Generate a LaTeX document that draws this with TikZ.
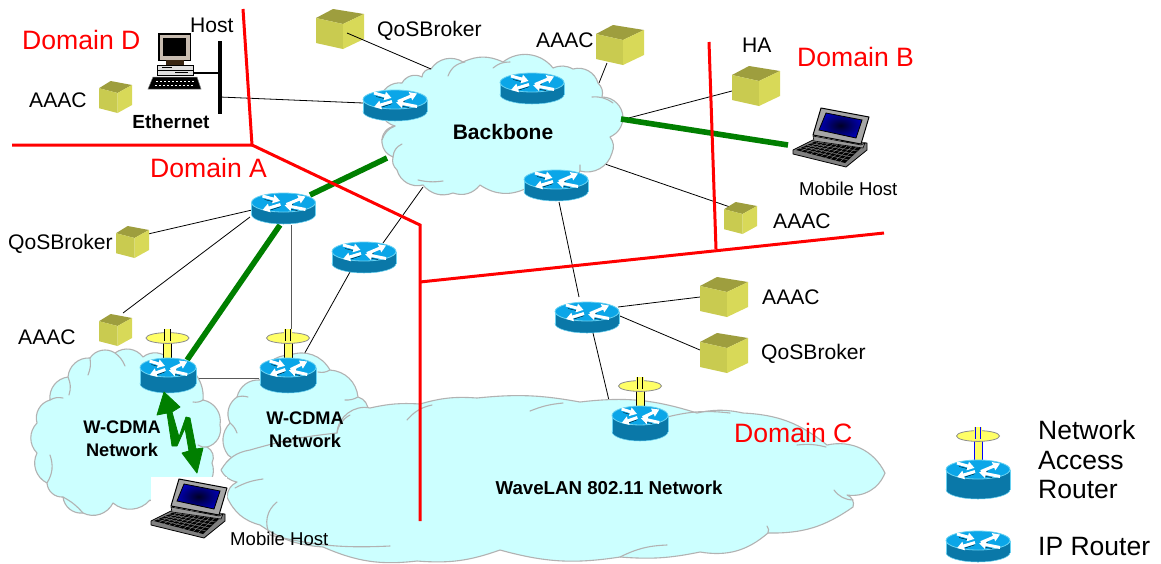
\documentclass[tikz,border=0pt]{standalone}
\usepackage{fontspec}
\setmainfont{Liberation Sans}
\usetikzlibrary{arrows.meta,calc}
\definecolor{cloudfill}{HTML}{CCFFFF}
\definecolor{cloudedge}{HTML}{B2B2B2}
\definecolor{rtop}{HTML}{0BA6E8}
\definecolor{rside}{HTML}{0A78A8}
\definecolor{redge}{HTML}{6AD2F2}
\definecolor{ctop}{HTML}{9E9E3E}
\definecolor{cleft}{HTML}{C9CB50}
\definecolor{cright}{HTML}{D8D958}
\definecolor{gline}{HTML}{007F00}
\definecolor{mast}{HTML}{FFFF66}
\definecolor{beige}{HTML}{C8BCB0}
\tikzset{
  cloudshape/.style={fill=cloudfill,draw=cloudedge,line width=1.1pt,line join=round},
  wrinkle/.style={draw=cloudedge,line width=1.1pt,line cap=round},
  redline/.style={draw=red,line width=3pt,line join=miter},
  greenline/.style={draw=gline,line width=5.6pt},
  thinline/.style={draw=black,line width=.8pt},
  grayline/.style={draw=black!65,line width=1pt},
  lbl/.style={inner sep=0pt,font=\fontsize{21.1}{25}\selectfont,text=black},
  dom/.style={inner sep=0pt,font=\fontsize{26.6}{30}\selectfont,text=red},
  small/.style={inner sep=0pt,font=\fontsize{18.6}{22}\selectfont,text=black},
  bld/.style={inner sep=0pt,align=center,font=\fontsize{18.2}{23}\selectfont\bfseries,text=black},
  leg/.style={inner sep=0pt,align=left,font=\fontsize{26.5}{29.5}\selectfont,text=black},
  bump/.style={every to/.style={bend left=#1}},
}
\newcommand\mycube[5]{%
  \begin{scope}[shift={(#2,#3)},xscale=#4,yscale=#5]
    \coordinate (#1) at (24,20);
    \fill[ctop] (17,0)--(48,5)--(27,15)--(0,9)--cycle;
    \fill[cleft] (0,9)--(27,15)--(27,40)--(0,34)--cycle;
    \fill[cright] (27,15)--(48,5)--(48,30)--(27,40)--cycle;
  \end{scope}}
\newcommand\mybig[3]{\mycube{#1}{#2}{#3}{1}{1}}
\newcommand\mysmall[3]{\mycube{#1}{#2}{#3}{.6875}{.8}}
\newcommand\myrouter[5]{%
  \coordinate (#1) at (#2,#3);
  \begin{scope}[shift={(#2,#3)},xscale=#4]
    \fill[rside,draw=redge,line width=.5pt] (0,#5) ellipse [x radius=32,y radius=9.5];
    \fill[rside] (-32,0) rectangle (32,#5);
    \draw[redge,line width=.5pt] (-32,0)--(-32,#5) (32,0)--(32,#5);
    \fill[rtop,draw=redge,line width=.8pt] (0,0) ellipse [x radius=32,y radius=9.5];
    \draw[black,line width=.35pt] (-19,-3)--(-9,-.5) (3,3.8)--(10,1.5) (-13,7.5)--(-3,4.2) (5,6.5)--(14,8);
    \foreach \a/\b/\c/\d in {-21/-6.5/-3.5/-1.6, 3/2/22/-6, -3/2/-21/7.5, 22/7/1/2.8}{
      \draw[white,line width=3pt,-{Triangle[width=8.5pt,length=7pt]}] (\a,\b)--(\c,\d);}
  \end{scope}}
\newcommand\myantenna[5]{%
  \begin{scope}[shift={(#1,0)}]
    \fill[mast,draw=#5,line width=.5pt] (-3.8,#3)rectangle(3.8,#4);
    \fill[mast,draw=black!45,line width=.8pt] (0,#3) ellipse [x radius=21.5,y radius=5.4];
    \fill[mast] (-3.8,#2) rectangle (3.8,#3);
    \draw[#5,line width=.8pt] (-2.8,#2)--(-2.8,#3+3) (2.8,#2)--(2.8,#3+3);
  \end{scope}}
\newcommand\mylaptop[3]{%
  \begin{scope}[shift={(#2,#3)}]
    \coordinate (#1) at (37,30);
    \fill[black!50,draw=black,line width=.8pt,line join=round] (20,33)--(74,36)--(74,43)--(53,60)--(0,47)--(0,43)--cycle;
    \fill[black!35,draw=black,line width=1pt,line join=round] (28,1)--(76,10)--(68,37)--(20,28)--cycle;
    \begin{scope}
      \clip (33,6)--(69,13)--(63,31)--(26,23)--cycle;
      \shade[inner color=black!85!blue,outer color=blue!75!black] (24,4) rectangle (71,33);
    \end{scope}
    \draw[black,line width=.8pt] (33,6)--(69,13)--(63,31)--(26,23)--cycle;
    \fill[black!40,draw=black,line width=.6pt] (20,29)--(68,38)--(72,36)--(70,41)--(21,34)--cycle;
    \fill[black] (3,43)--(21,35)--(68,41)--(52,56)--cycle;
    \foreach \t in {.2,.4,.6,.8}{
      \draw[black!50,line width=.5pt] ($(3,43)!\t!(21,35)$)--($(52,56)!\t!(68,41)$);}
    \foreach \t in {.1,.2,...,.95}{
      \draw[black!50,line width=.5pt] ($(3,43)!\t!(52,56)$)--($(21,35)!\t!(68,41)$);}
  \end{scope}}
\begin{document}
\begin{tikzpicture}[x=1pt,y=-1pt]
\useasboundingbox (0,0) rectangle (1161,563);
\fill[white] (0,0) rectangle (1161,563);

\coordinate (bbQ) at (431,69);
\coordinate (bbA) at (599,83);
\coordinate (bbH) at (621,120);
\coordinate (bbM) at (621,119);
\coordinate (bbD) at (602,163);
\coordinate (bbW) at (423,187);
\coordinate (bbG) at (387,158);
\coordinate (ethJ) at (220,97);
\coordinate (ethK) at (220,73);
\coordinate (ethT) at (220,41);
\coordinate (ethB) at (220,114);
\coordinate (pcR) at (193,73);
\coordinate (hostM) at (788,145);
\coordinate (r5a) at (383,243);
\coordinate (r5b) at (350,272);
\coordinate (n2b) at (302,358);
\coordinate (r4a) at (291,225);
\coordinate (n2a) at (291,335);
\coordinate (r3a) at (559,202);
\coordinate (r6a) at (579,297);
\coordinate (r6b) at (593,333);
\coordinate (n3a) at (612,413);
\coordinate (r6c) at (618,307);
\coordinate (r6d) at (620,316);
\coordinate (r4g) at (310,195);
\coordinate (r4h) at (280,225);
\coordinate (n1g) at (187,360);
\coordinate (r4q) at (252,210);
\coordinate (r4s) at (250,217);
\coordinate (qL) at (148,234);
\coordinate (aL) at (123,313);
\coordinate (cubeA) at (700,297);
\coordinate (cubeB) at (700,350);
\coordinate (haL) at (732,91);
\coordinate (aaS) at (730,207);
\coordinate (aaT) at (607,63);
\coordinate (qT) at (347,33);
\coordinate (n1r) at (196,378);
\coordinate (n2l) at (259,378);

\draw[thinline] (bbA)--(aaT);
\draw[thinline] (bbH)--(haL);
\draw[thinline] (bbD)--(aaS);
\draw[thinline] (bbW)--(r5a);
\draw[thinline] (r5b)--(n2b);
\draw[thinline] (r3a)--(r6a);
\draw[thinline] (r6b)--(n3a);
\draw[thinline] (r6c)--(cubeA);
\draw[thinline] (r6d)--(cubeB);
\draw[thinline] (r4q)--(qL);
\draw[thinline] (r4s)--(aL);
\draw[grayline] (r4a)--(n2a);
\draw[grayline] (n1r)--(n2l);
\draw[greenline] (bbG)--(r4g);
\draw[greenline] (r4h)--(n1g);

\path[cloudshape,bump=45] (37,423) to (50,400) to (68,377) to (90,358) to (115,353) to (143,357) to (170,360) to (203,400) to (220,425) to (207,447) to (212,463) to (200,490) to (150,500) to (113,503) to (83,513) to (63,497) to (47,483) to (37,453) to (37,423) -- cycle;
\draw[wrinkle] (50,400) to[bend left=20] (63,398) (68,377) to[bend left=20] (69,395) (90,358) to[bend left=15] (88,375) (115,353) to[bend left=15] (125,366) (203,400) to[bend left=20] (193,402) (207,447) to[bend left=20] (198,445) (47,483) to[bend right=25] (50,455) (83,513) to[bend right=10] (63,497);
\path[cloudshape,bump=40] (230,423) to (237,397) to (260,380) to (290,355) to (330,370) to (358,397) to (368,412) to (360,450) to (228,455) to (230,423) -- cycle;
\draw[wrinkle] (237,397) to[bend left=15] (248,397) (330,370) to[bend left=20] (318,372) (358,397) to[bend left=15] (345,400) (230,423) to[bend left=15] (237,433);
\path[cloudshape] (221,470)
  to[bend left=25] (250,450) to[bend left=5] (337,433) to[bend left=50] (370,408) to[bend left=8] (420,404)
  to[bend left=10] (477,398) to[bend left=8] (580,402) to[bend left=12] (697,413) to[bend left=12] (743,413)
  to[bend left=18] (827,445) to[bend left=38] (885,473) to[bend left=38] (847,495) to[bend left=45] (853,507) to[bend left=18] (768,533) to[bend left=25] (700,552)
  to[bend left=8] (620,557) to[bend left=12] (500,550) to[bend left=12] (417,561) to[bend left=15] (323,547)
  to[bend left=15] (260,525) to[bend left=25] (227,497) to[bend left=30] (237,482) to[bend left=25] (221,470) -- cycle;
\draw[wrinkle] (337,433) to[bend left=25] (350,415) (407,420) to[bend left=18] (432,405) (530,411) to[bend left=8] (563,403)
  (667,417) to[bend left=10] (730,413) (797,445) to[bend left=10] (826,447)
  (834,490) to[bend right=25] (853,500) (767,526) to[bend left=30] (768,533) (667,545) to[bend right=12] (620,557)
  (263,479) to[bend right=10] (235,488) (277,502) to[bend right=40] (270,535) to[bend right=8] (390,546);
\path[cloudshape,bump=45] (431,69) to (463,62) to[bend left=25] (503,62) to (553,68) to[bend left=25] (573,69) to (598,83) to[bend left=30] (602,97) to (623,118) to[bend left=30] (610,137) to[bend left=30] (612,153) to (580,171) to (527,188) to[bend left=30] (480,185) to[bend left=35] (453,193) to[bend left=35] (423,185) to (397,170) to[bend left=30] (393,157) to[bend left=30] (382,143) to (395,126) to (380,100) to (402,83) to (422,77) to (431,69) -- cycle;
\draw[wrinkle] (448,76) to[bend left=30] (465,62) (493,68) to[bend left=20] (510,62) (592,97) to[bend left=20] (613,103)
  (580,165) -- (580,171) (402,144) to[bend right=30] (393,157) (443,181) to[bend left=10] (418,180) (395,126) to[bend right=25] (382,140);

\mybig{qosT}{316}{9}
\draw[thinline] (qT)--(bbQ);

\draw[greenline] (bbM)--(hostM);
\draw[thinline] (ethJ)--(363,103);
\draw[draw=black,line width=3.5pt] (ethT)--(ethB);
\draw[draw=black,line width=2.6pt] (pcR)--(ethK);

\fill[black] (158,33) rectangle (191,61);
\fill[beige] (159.5,34.5) rectangle (189.5,59.5);
\fill[black] (163,38) rectangle (186,56);
\fill[black!70!brown] (166,60) rectangle (184,65);
\fill[black!12,draw=black,line width=.6pt] (157,65) rectangle (193,75);
\draw[black,line width=.8pt] (157,70)--(193,70) (162,67.5)--(172,67.5) (175,72.5)--(188,72.5);
\fill[black,draw=black!50,line width=.5pt] (153,77)--(197,77)--(201,89)--(148,89)--cycle;
\foreach \q in {156,160,...,192}{\draw[white,line width=.5pt] (\q,81)--(\q+2,81) (\q-1,85)--(\q+1,85);}
\coordinate (pc) at (175,60);

\coordinate (ra) at (243,9);
\coordinate (rb) at (252,145);
\coordinate (rc) at (12,145);
\coordinate (rd) at (420,225);
\coordinate (re) at (420,521);
\coordinate (rf) at (420,282);
\coordinate (rg) at (884,233);
\coordinate (rh) at (709,42);
\coordinate (ri) at (716,249);
\draw[redline] (ra)--(rb)--(rc);
\draw[redline] (rb)--(rd)--(re);
\draw[redline] (rf)--(rg);
\draw[redline] (rh)--(ri);

\fill[white] (151,477) rectangle (227,537);
\mylaptop{lapL}{151}{478}
\mylaptop{lapR}{793}{107}

\mybig{aaacT}{596}{25}
\mybig{ha}{732}{66}
\mybig{aaacC}{700}{277}
\mybig{qosC}{700}{333}
\mysmall{aaacB}{724}{202}
\mysmall{aaacD}{99}{81}
\mysmall{qosA}{116}{226}
\mysmall{aaacA}{99}{314}

\myrouter{r1}{395}{99.5}{1}{12}
\myrouter{r2}{532}{82.5}{1}{12}
\myrouter{r3}{556}{179.5}{1}{12}
\myrouter{r4}{283.5}{202.5}{1}{12}
\myrouter{r5}{364}{251.5}{1}{12}
\myrouter{r6}{587}{311.5}{1}{12}
\myantenna{167.5}{329}{338}{365}{black}
\myantenna{288}{329}{338}{365}{black}
\myantenna{640}{377}{386}{414}{black}
\myantenna{978}{427}{436}{468}{blue}
\myrouter{n1}{168}{367.5}{.875}{16}
\myrouter{n2}{288}{367.5}{.875}{16}
\myrouter{n3}{640}{415.5}{.875}{16}
\myrouter{n4}{978}{469.5}{1}{20}
\myrouter{ipr}{978}{540.5}{1}{12}

\fill[gline,draw=gline,line width=.8pt,line join=round] (164,392)--(180,407)--(172,412)--(179,437)--(186,417)--(190,418)--(196,449)--(203,448)--(197,473)--(182,453)--(189,451)--(185,428)--(177,446)--(172,446)--(167,413)--(157,415)--cycle;

\node[dom,anchor=west] (tD) at (22,40) {Domain D};
\node[dom,anchor=west] (tA) at (150,168) {Domain A};
\node[dom,anchor=west] (tB) at (797,57) {Domain B};
\node[dom,anchor=west] (tC) at (734,433) {Domain C};
\node[lbl,anchor=west] (t1) at (190,25) {Host};
\node[lbl,anchor=west] (t2) at (377,31) {QoSBroker};
\node[lbl,anchor=west] (t3) at (536,40) {AAAC};
\node[lbl,anchor=west] (t4) at (742,45) {HA};
\node[lbl,anchor=west] (t5) at (29,100) {AAAC};
\node[lbl,anchor=west] (t6) at (773,221) {AAAC};
\node[lbl,anchor=west] (t7) at (8,244) {QoSBroker};
\node[lbl,anchor=west] (t8) at (18,337) {AAAC};
\node[lbl,anchor=west] (t9) at (762,297) {AAAC};
\node[lbl,anchor=west] (t10) at (761,354) {QoSBroker};
\node[small,anchor=west] (t11) at (799,189) {Mobile Host};
\node[small,anchor=west] (t12) at (230,539) {Mobile Host};
\node[bld,font=\fontsize{19}{22}\selectfont\bfseries] (t13) at (171,122) {Ethernet};
\node[bld,font=\fontsize{21}{25}\selectfont\bfseries] (t14) at (503,132) {Backbone};
\node[bld] (t15) at (122,439) {W-CDMA\\Network};
\node[bld] (t16) at (305,430) {W-CDMA\\Network};
\node[bld,font=\fontsize{18.7}{22}\selectfont\bfseries] (t17) at (609,488) {WaveLAN 802.11 Network};
\node[leg,anchor=west] (t18) at (1038,460) {Network\\Access\\Router};
\node[leg,anchor=west] (t19) at (1038,547) {IP Router};
\end{tikzpicture}
\end{document}
